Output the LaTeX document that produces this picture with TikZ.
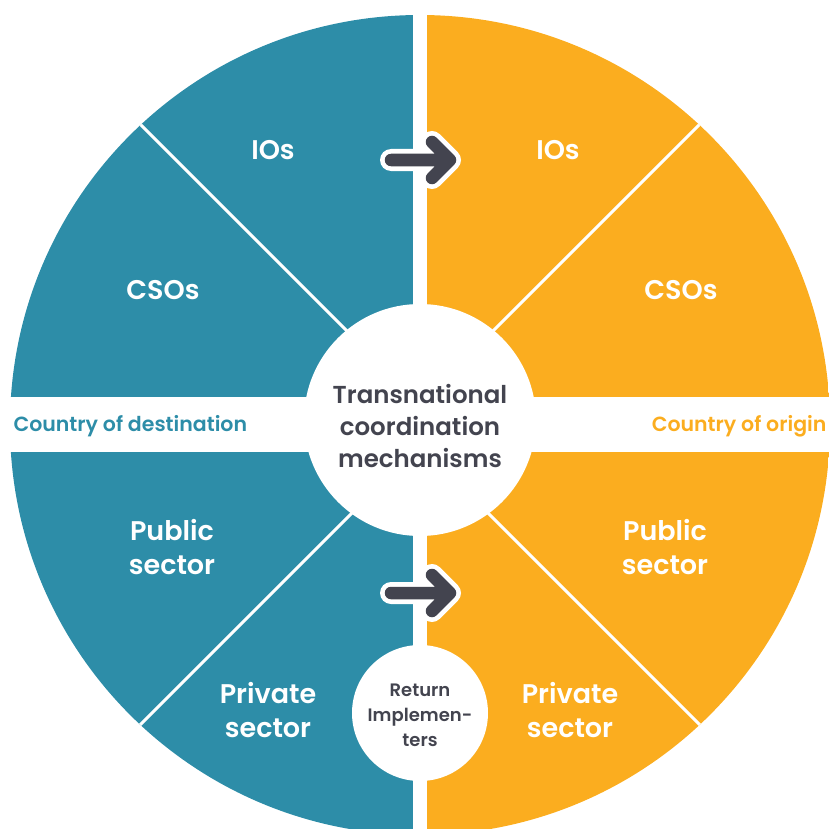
\documentclass[tikz,border=0pt]{standalone}
\usepackage{fontspec}
\setmainfont{Poppins}[BoldFont={Poppins SemiBold}]
\definecolor{dest}{HTML}{2D8DA8}
\definecolor{orig}{HTML}{FBAD1F}
\definecolor{ink}{HTML}{43444F}
\begin{document}
\begin{tikzpicture}[x=1pt,y=1pt,
    seg/.style={text=white,align=center,font=\bfseries\fontsize{27}{34}\selectfont},
    hub/.style={circle,fill=white,text=ink,align=center,inner sep=0pt},
    side/.style={font=\bfseries\fontsize{20.5}{24}\selectfont}]
  \useasboundingbox (-420,-403) rectangle (409,425);
  % four quarters, cut apart by the band and the gap
  \begin{scope}
    \clip (0,0) circle (410pt);
    \fill[dest] (-420,28) rectangle (-7,420);
    \fill[dest] (-420,-27) rectangle (-7,-420);
    \fill[orig] (7,28) rectangle (420,420);
    \fill[orig] (7,-27) rectangle (420,-420);
    \foreach \sx/\sy/\a in {-7/28/135, 7/28/45, -7/-27/225, 7/-27/315}
      \draw[white, line width=3pt] (\sx,\sy) -- ++(\a:450);
  \end{scope}
  % arrows from destination to origin
  \foreach \y in {265,-168} {
    \draw[white, line width=22pt, line cap=round, line join=round] (-29,\y) -- (30,\y) (12,\y+18) -- (30,\y) -- (12,\y-18);
    \draw[ink, line width=12.5pt, line cap=round, line join=round] (-29,\y) -- (30,\y) (12,\y+18) -- (30,\y) -- (12,\y-18);
  }
  \node[hub, minimum size=232pt] (hub) at (0,5) {};
  \node[text=ink, align=center, font=\bfseries\fontsize{24.5}{32}\selectfont] (hubtxt) at (0,-1) {Transnational\\coordination\\mechanisms};
  \node[hub, minimum size=136pt] (ret) at (0,-288) {};
  \node[text=ink, align=center, font=\bfseries\fontsize{18}{25}\selectfont] (rettxt) at (0,-290) {Return\\Implemen-\\ters};
  % sector labels
  \node[seg] (ioL) at (-147,275) {IOs};
  \node[seg] (ioR) at (138,275) {IOs};
  \node[seg] (csoL) at (-257,135) {CSOs};
  \node[seg] (csoR) at (261,135) {CSOs};
  \node[seg] (pubL) at (-248,-122) {Public\\sector};
  \node[seg] (pubR) at (245,-122) {Public\\sector};
  \node[seg] (priL) at (-152,-285) {Private\\sector};
  \node[seg] (priR) at (150,-285) {Private\\sector};
  \node[side, text=dest, anchor=west] (dst) at (-410,-1) {Country of destination};
  \node[side, text=orig, anchor=east] (org) at (410,-1) {Country of origin};
\end{tikzpicture}
\end{document}
